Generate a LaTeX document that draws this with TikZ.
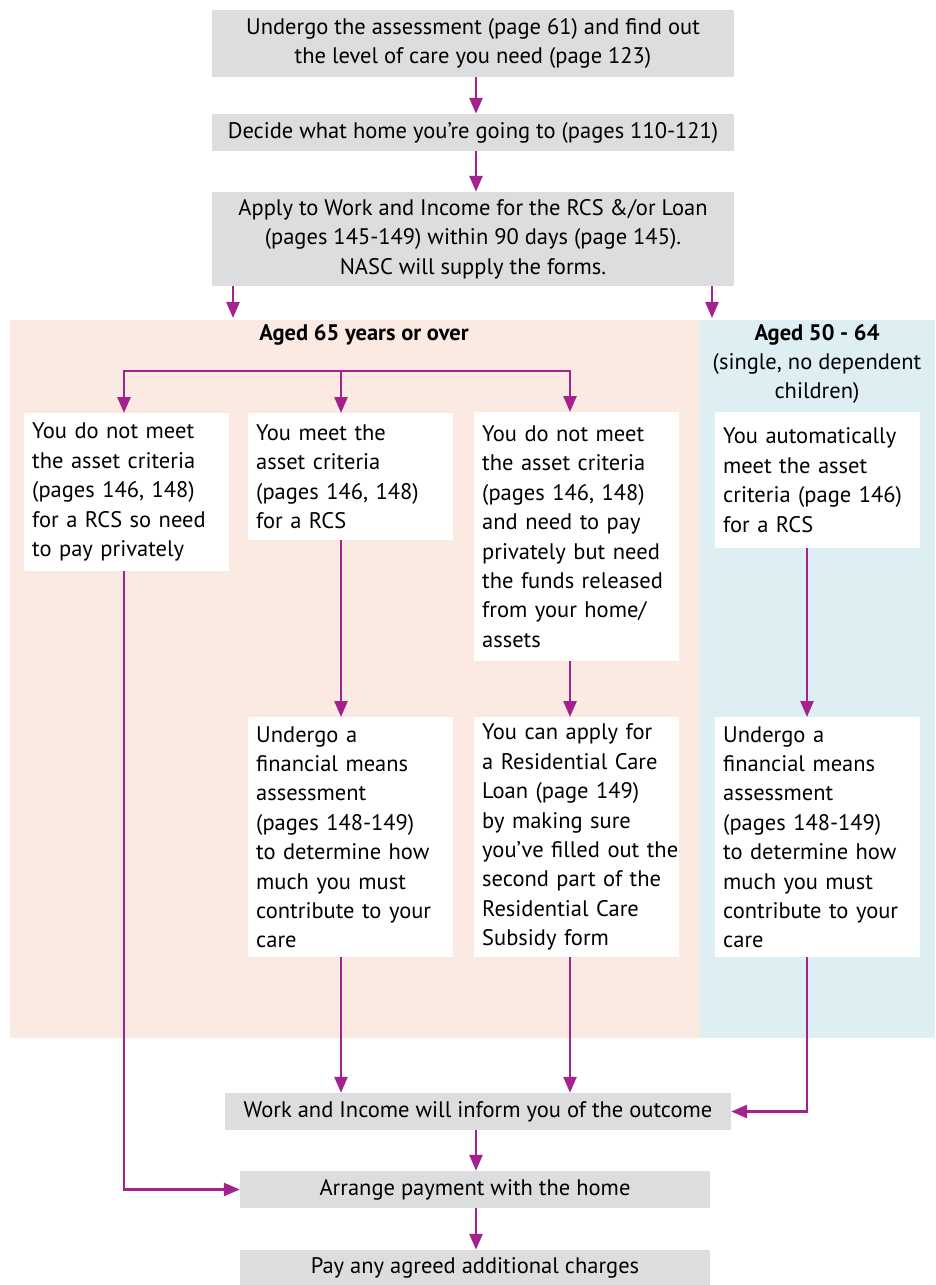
\documentclass[tikz,border=0pt]{standalone}
\usepackage{fontspec}
\setmainfont{PT Sans}
\usetikzlibrary{positioning,calc,arrows.meta}
\definecolor{stepgrey}{HTML}{DCDDDF}
\definecolor{olderpink}{HTML}{FBEAE2}
\definecolor{youngerblue}{HTML}{DDEFF2}
\definecolor{flowpink}{HTML}{A4228E}
\tikzset{
    greybox/.style={fill=stepgrey, align=center, inner sep=0pt, minimum height=37pt},
    whitebox/.style={fill=white, anchor=north west, align=left, text width=189pt,
        minimum width=205pt, inner xsep=8pt, inner ysep=0pt},
    flow/.style={draw=flowpink, line width=2.6pt, -{Triangle[width=13pt,length=16pt]}}
}

\begin{document}
\begin{tikzpicture}[x=1pt,y=-1pt,font=\fontsize{22.5pt}{29.4pt}\selectfont]
                    \useasboundingbox (0,0) rectangle (935,1285);
                    \fill[olderpink] (10,320) rectangle (700,1038);
                    \fill[youngerblue] (700,320) rectangle (935,1038);

                    \node[greybox, minimum width=522pt, minimum height=67pt] (assess) at (473,43.5)
                        {Undergo the assessment (page 61) and find out\\the level of care you need (page 123)};
                    \node[greybox, minimum width=522pt] (decide) at (473,132.5)
                        {Decide what home you’re going to (pages 110-121)};
                    \node[greybox, minimum width=522pt, minimum height=94pt] (apply) at (473,239)
                        {Apply to Work and Income for the RCS \&/or Loan\\(pages 145-149) within 90 days (page 145).\\NASC will supply the forms.};

                    \node[font=\fontsize{22.5pt}{29.4pt}\selectfont\bfseries] (older) at (364,335) {Aged 65 years or over};
                    \node[align=center] (younger) at (817,364) {\textbf{Aged 50 - 64}\\(single, no dependent\\children)};

                    \node[whitebox, minimum height=158pt] (notmeet) at (24,413)
                        {You do not meet\\the asset criteria\\(pages 146, 148)\\for a RCS so need\\to pay privately};
                    \node[whitebox, minimum height=127pt] (meet) at (248,413)
                        {You meet the\\asset criteria\\(pages 146, 148)\\for a RCS};
                    \node[whitebox, minimum height=249pt] (release) at (474,412)
                        {You do not meet\\the asset criteria\\(pages 146, 148)\\and need to pay\\privately but need\\the funds released\\from your home/\\assets};
                    \node[whitebox, minimum height=136pt] (automeet) at (715,412)
                        {You automatically\\meet the asset\\criteria (page 146)\\for a RCS};
                    \node[whitebox, minimum height=240pt] (means) at (248,717)
                        {Undergo a\\financial means\\assessment\\(pages 148-149)\\to determine how\\much you must\\contribute to your\\care};
                    \node[whitebox, minimum height=240pt] (loan) at (474,717)
                        {You can apply for\\a Residential Care\\Loan (page 149)\\by making sure\\you’ve~filled~out~the\\second part of the\\Residential Care\\Subsidy form};
                    \node[whitebox, minimum height=240pt] (meansyoung) at (715,717)
                        {Undergo a\\financial means\\assessment\\(pages 148-149)\\to determine how\\much you must\\contribute to your\\care};

                    \node[greybox, minimum width=506pt] (outcome) at (478,1111.5) {Work and Income will inform you of the outcome};
                    \node[greybox, minimum width=470pt] (arrange) at (475,1189.5) {Arrange payment with the home};
                    \node[greybox, minimum width=470pt, minimum height=36pt] (pay) at (475,1268) {Pay any agreed additional charges};

                    \coordinate (mid) at (476,0);
                    \coordinate (colA) at (124,0);
                    \coordinate (colB) at (341,0);
                    \coordinate (colC) at (570,0);
                    \coordinate (colD) at (807,0);
                    \coordinate (to65) at (233,318);
                    \coordinate (to50) at (712,318);
                    \coordinate (split) at (341,371);

                    \draw[flow] (assess.south -| mid) -- (decide.north -| mid);
                    \draw[flow] (decide.south -| mid) -- (apply.north -| mid);
                    \draw[flow] (apply.south -| to65) -- (to65);
                    \draw[flow] (apply.south -| to50) -- (to50);
                    \draw[flow] (split) -| (notmeet.north -| colA);
                    \draw[flow] (split) -- (meet.north -| colB);
                    \draw[flow] (split) -| (release.north -| colC);
                    \draw[flow] (meet.south -| colB) -- (means.north -| colB);
                    \draw[flow] (release.south -| colC) -- (loan.north -| colC);
                    \draw[flow] (automeet.south -| colD) -- (meansyoung.north -| colD);
                    \draw[flow] (means.south -| colB) -- (outcome.north -| colB);
                    \draw[flow] (loan.south -| colC) -- (outcome.north -| colC);
                    \draw[flow] (meansyoung.south -| colD) |- (outcome.east);
                    \draw[flow] (outcome.south -| mid) -- (arrange.north -| mid);
                    \draw[flow] (notmeet.south -| colA) |- (arrange.west);
                    \draw[flow] (arrange.south -| mid) -- (pay.north -| mid);
\end{tikzpicture}
\end{document}
